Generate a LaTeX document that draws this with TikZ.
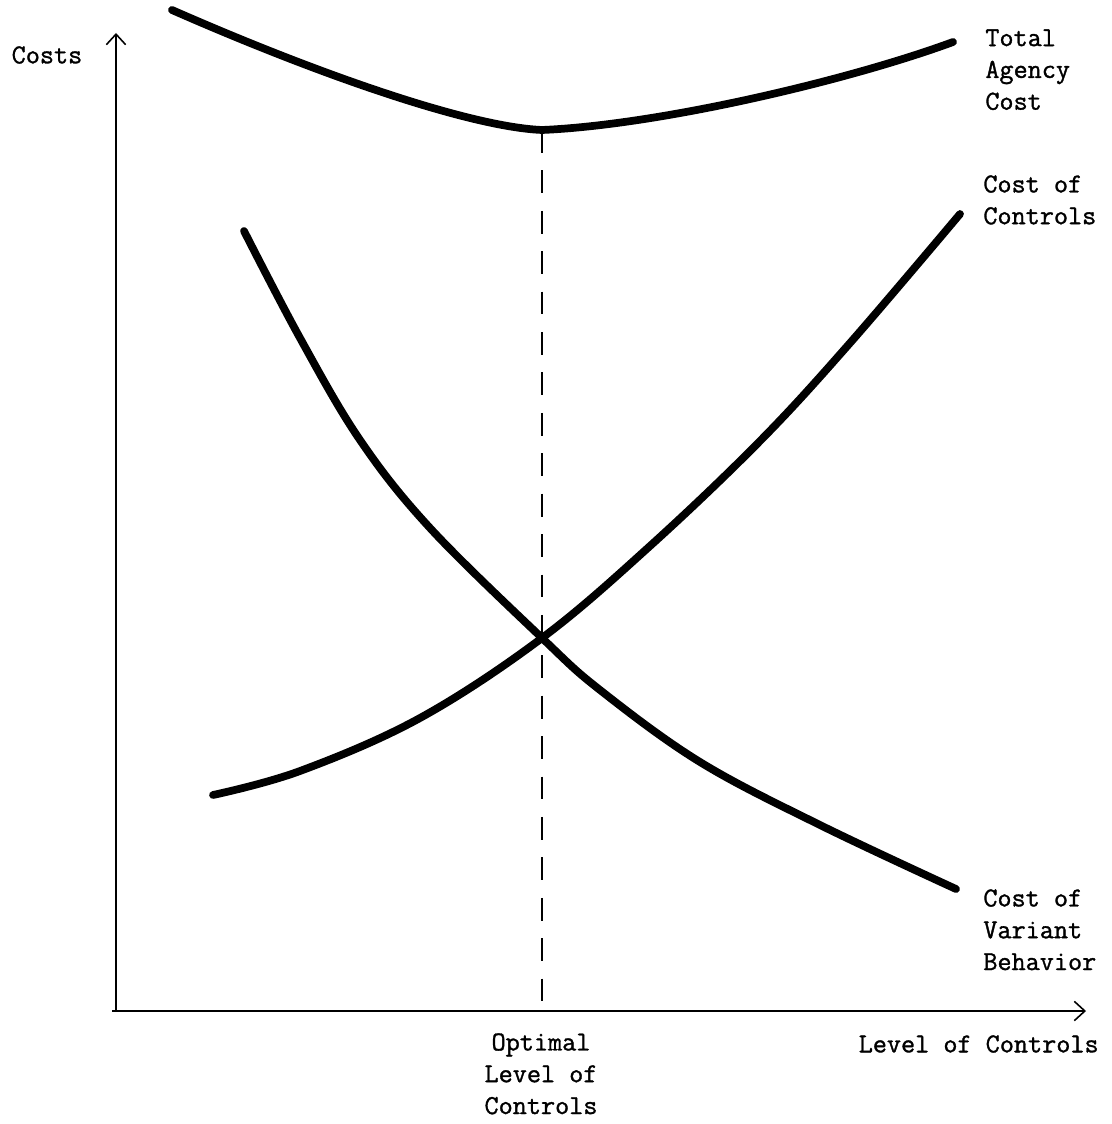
\documentclass[tikz,border=0pt]{standalone}
\usepackage{fontspec}
\setmonofont{Latin Modern Mono}[FakeBold=1.2]
\usetikzlibrary{arrows.meta}
\begin{document}
\begin{tikzpicture}[x=0.02cm,y=-0.02cm,
  every node/.style={font=\ttfamily\fontsize{15.6}{18.1}\selectfont,inner sep=0pt},
  axis/.style={line width=0.9pt,-{Straight Barb[length=6pt,width=11pt]}},
  curve/.style={line width=4.4pt,line cap=round,line join=round},
  lbl/.style={align=left,anchor=north west}]
  \useasboundingbox (0,0) rectangle (1111,1124);

  % Axes
  \coordinate (origin) at (116,1011);
  \coordinate (ytip) at (116,33);
  \coordinate (xtip) at (1086,1011);
  \draw[axis] (origin) -- (ytip);
  \draw[axis] (112,1011) -- (xtip);
  \node (costs) at (47,55) {Costs};
  \node[anchor=east] (levelctl) at (1099,1044) {Level of Controls};

  % Optimum, dashed drop line
  \coordinate (optimum) at (542,130);
  \coordinate (optfoot) at (542,1011);
  \draw[line width=1.3pt,dash pattern=on 13pt off 10pt] (optimum) -- (optfoot);
  \node[align=center,anchor=north] (optlbl) at (541,1033)
    {Optimal\\Level of\\Controls};

  % Total agency cost
  \draw[curve] (172,10) .. controls (320,75) and (470,127) .. (optimum)
    .. controls (660,125) and (850,80) .. (953,42);
  \node[lbl] (total) at (985,29) {Total\\Agency\\Cost};

  % Cost of controls
  \draw[curve] plot[smooth,tension=0.6] coordinates
    {(213,795) (300,771) (420,718) (542,638) (650,546) (760,441) (850,343) (960,214)};
  \node[lbl] (controls) at (983,175) {Cost of\\Controls};

  % Cost of variant behavior
  \draw[curve] plot[smooth,tension=0.6] coordinates
    {(244,231) (300,338) (360,440) (430,528) (542,638) (600,690) (700,762) (820,825) (956,889)};
  \node[lbl] (variant) at (983,889) {Cost of\\Variant\\Behavior};
\end{tikzpicture}
\end{document}
